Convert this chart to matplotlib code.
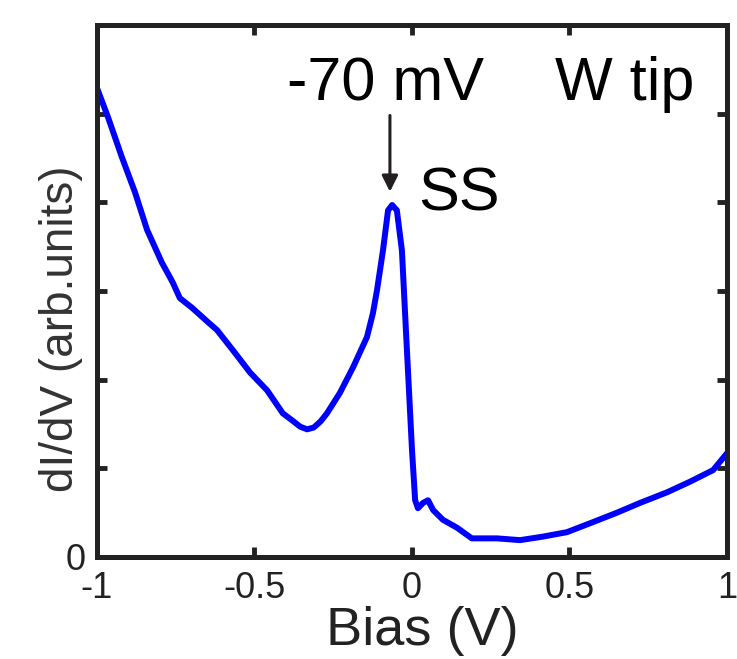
import matplotlib
matplotlib.use('Agg')
import matplotlib.pyplot as plt

# --- Data ---
bias = [-1.0, -0.965, -0.921, -0.879, -0.841, -0.794, -0.760, -0.737, -0.698, -0.648, -0.619,
        -0.568, -0.514, -0.460, -0.410, -0.380, -0.355, -0.333, -0.312, -0.290, -0.270, -0.229, -0.187,
        -0.143, -0.124, -0.111, -0.092, -0.076, -0.063, -0.048, -0.032, -0.016, 0.0,
        0.010, 0.019, 0.035, 0.051, 0.067, 0.098, 0.143, 0.190, 0.270, 0.343,
        0.416, 0.492, 0.565, 0.651, 0.724, 0.810, 0.883, 0.956, 1.0]
didv = [5.29, 4.96, 4.51, 4.11, 3.69, 3.32, 3.10, 2.92, 2.81, 2.65, 2.56,
        2.33, 2.08, 1.88, 1.62, 1.54, 1.47, 1.44, 1.46, 1.53, 1.62, 1.85, 2.14,
        2.48, 2.75, 3.01, 3.46, 3.91, 3.97, 3.91, 3.46, 2.33, 1.21,
        0.64, 0.55, 0.61, 0.64, 0.53, 0.42, 0.33, 0.21, 0.21, 0.19,
        0.23, 0.28, 0.38, 0.50, 0.61, 0.73, 0.85, 0.98, 1.17]

xticks = [-1, -0.5, 0, 0.5, 1]
xticklabels = ['-1', '-0.5', '0', '0.5', '1']
yticks = [0, 1, 2, 3, 4, 5, 6]
yticklabels = ['0', '', '', '', '', '', '']

plt.rcParams['font.family'] = ['Liberation Sans', 'DejaVu Sans']

fig = plt.figure(figsize=(7.37, 6.59), dpi=100)
ax = fig.add_axes([0.1316, 0.1548, 0.8548, 0.8072])

ax.plot(bias, didv, color='#0000ff', linewidth=4.3, solid_joinstyle='round')

ax.set_xlim(-1, 1)
ax.set_ylim(0, 6)
ax.set_xticks(xticks)
ax.set_xticklabels(xticklabels)
ax.set_yticks(yticks)
ax.set_yticklabels(yticklabels)
ax.tick_params(direction='in', length=7, width=3.5, top=True, right=True,
               labelsize=26, colors='#222222')
ax.tick_params(axis='x', pad=10)
ax.tick_params(axis='y', pad=8)
for s in ax.spines.values():
    s.set_linewidth(3.6)
    s.set_color('#222222')

ax.set_xlabel('Bias (V)', fontsize=39, color='#222222')
ax.xaxis.set_label_coords(0.516, -0.092)
ax.set_ylabel('dI/dV (arb.units)', fontsize=33, color='#333333')
ax.yaxis.set_label_coords(-0.022, 0.43)

# annotations
ax.annotate('', xy=(-0.07, 4.12), xytext=(-0.07, 4.98),
            arrowprops=dict(arrowstyle='-|>', color='#231f20', lw=2.2,
                            mutation_scale=24, shrinkA=0, shrinkB=0))
ax.text(-0.083, 5.15, '-70 mV', fontsize=44, ha='center', va='baseline')
ax.text(0.454, 5.15, 'W tip', fontsize=44, ha='left', va='baseline')
ax.text(0.019, 3.91, 'SS', fontsize=44, ha='left', va='baseline')

fig.savefig('out.png', dpi=100)
